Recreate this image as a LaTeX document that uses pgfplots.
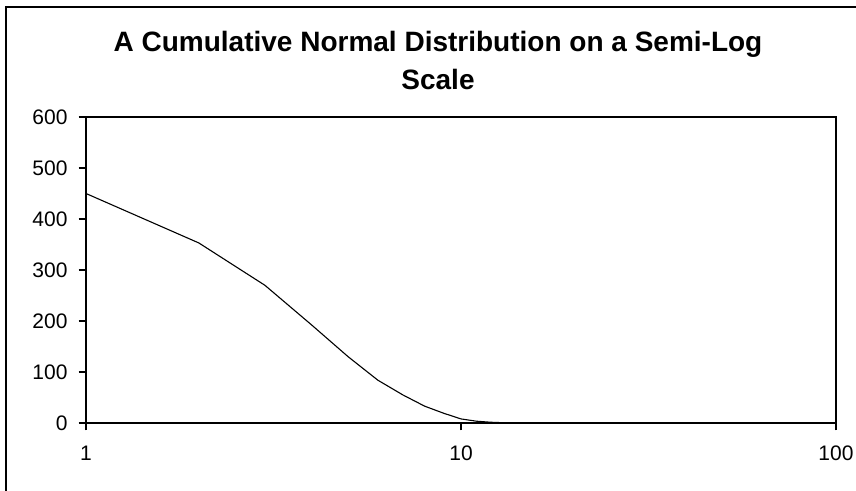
\documentclass[border=0pt]{standalone}
\usepackage{fontspec}
\setmainfont{Liberation Sans}
\usepackage{pgfplots}
\pgfplotsset{compat=1.18}
\begin{document}
\begin{tikzpicture}
\useasboundingbox (0,0) rectangle (428pt,245.5pt);
% chart frame (cut off at right and bottom in the reference)
\draw[line width=0.8pt] (3pt,-10pt) -- (3pt,242pt) -- (450pt,242pt);
\node[font=\fontsize{14}{16}\selectfont\bfseries, anchor=base] at (219pt,219.5pt)
  {A Cumulative Normal Distribution on a Semi-Log};
\node[font=\fontsize{14}{16}\selectfont\bfseries, anchor=base] at (219pt,200.5pt) {Scale};
\begin{axis}[
    at={(43pt,34pt)}, anchor=south west,
    scale only axis, width=375pt, height=153pt,
    xmode=log, xmin=1, xmax=100, ymin=0, ymax=600,
    xtick={1,10,100}, xticklabels={1,10,100}, xminorticks=false,
    ytick={0,100,...,600},
    xtick pos=bottom, ytick pos=left,
    tick align=outside, major tick length=3.75pt,
    axis line style={line width=0.75pt}, major tick style={line width=0.75pt, black},
    tick label style={font=\fontsize{10.5}{12}\selectfont},
    /pgf/number format/assume math mode=true,
    xticklabel style={yshift=-4pt},
    yticklabel style={xshift=-2pt},
  ]
  \addplot[black, line width=0.55pt] coordinates {
    (1,450) (2,353) (3,270) (4,192) (5,130) (6,84) (7,55) (8,33) (9,19)
    (10,8) (11,3.5) (12,1.5) (13,0.5) (14,0.2) (15,0) (20,0) (50,0) (100,0)
  };
\end{axis}
\end{tikzpicture}
\end{document}
